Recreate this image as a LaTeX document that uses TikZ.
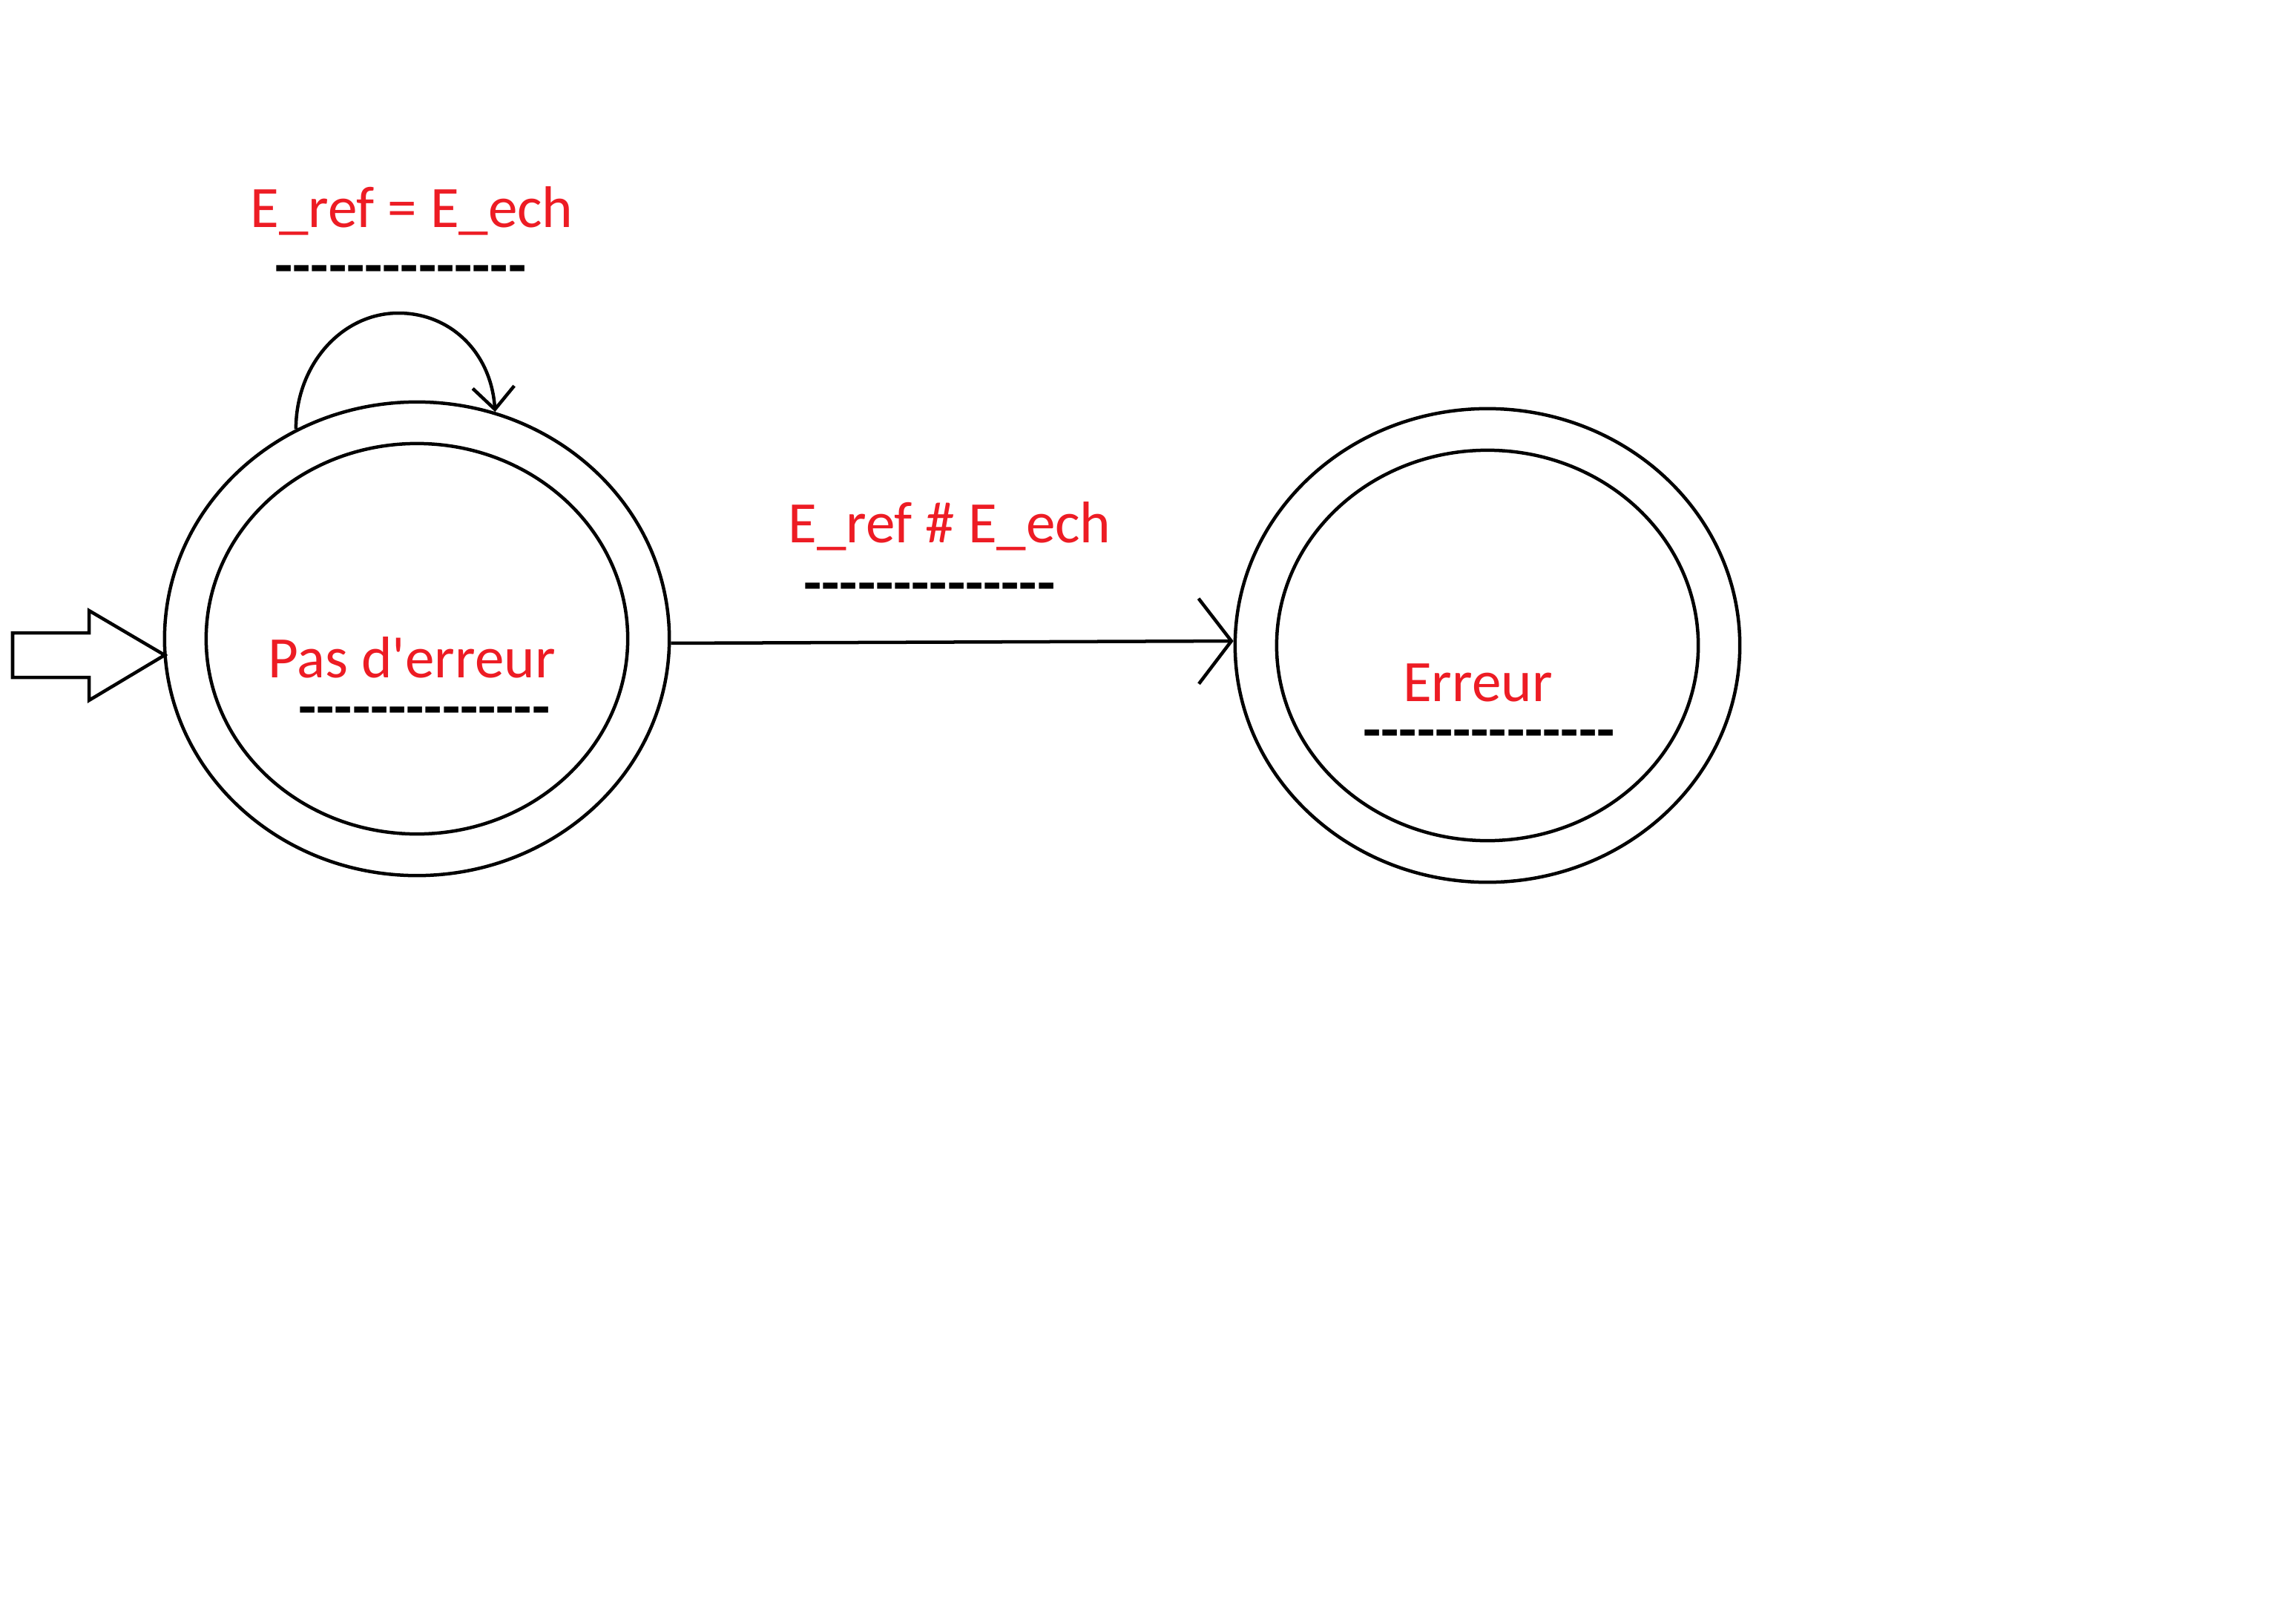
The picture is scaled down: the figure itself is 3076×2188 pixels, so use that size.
\documentclass[tikz,border=0pt]{standalone}
\usepackage{fontspec}
\newfontfamily\cfont{Carlito}
\usetikzlibrary{arrows.meta,shapes.geometric}
\definecolor{pred}{RGB}{237,28,36}
\begin{document}
\begin{tikzpicture}[x=0.01cm,y=-0.01cm,
  line width=0.045cm,
  stateout/.style={draw,ellipse,minimum width=6.8cm,minimum height=6.38cm,inner sep=0pt},
  statein/.style={draw,ellipse,minimum width=5.68cm,minimum height=5.26cm,inner sep=0pt},
  lbl/.style={text=pred,font=\cfont\fontsize{22.5pt}{27pt}\selectfont,inner sep=0pt,anchor=base},
  dashes/.style={text=black,font=\cfont\bfseries\fontsize{22.5pt}{27pt}\selectfont,inner sep=0pt,anchor=base},
  tr/.style={-{Straight Barb[length=0.44cm,width=1.15cm]}},
  loopar/.style={-{Straight Barb[length=0.30cm,width=0.56cm]}}]
\fill[white] (0,0) rectangle (3076,2188);
\useasboundingbox (0,0) rectangle (3076,2188);
% states
\node[stateout] (s0) at (562,861) {};
\node[statein] (s0i) at (s0.center) {};
\node[stateout] (s1) at (2005,870) {};
\node[statein] (s1i) at (s1.center) {};
% state labels
\node[lbl] (l0) at (555,913) {Pas d'erreur};
\node[dashes] (d0) at (572,979) {--------------};
\node[lbl] (l1) at (1992,945) {Erreur};
\node[dashes] (d1) at (2007,1010) {--------------};
% transition labels
\node[lbl] (tloop) at (555,307) {E\_ref = E\_ech};
\node[dashes] (dloop) at (540,384) {--------------};
\node[lbl] (ttr) at (1280,731) {E\_ref \# E\_ech};
\node[dashes] (dtr) at (1253,812) {--------------};
% initial arrow
\coordinate (init) at (222,883);
\draw (init) -- ++(-102,-60) -- ++(0,30) -- ++(-103,0) -- ++(0,60) -- ++(103,0) -- ++(0,31) -- cycle;
% transitions
\draw[tr] (s0.-1) -- (s1.179);
\coordinate (looptop) at (537,422);
\draw[loopar] (s0.120) .. controls +(0,-87) and +(-76,0) .. (looptop)
  .. controls +(72,0) and +(-5,-78) .. (s0.71);
\end{tikzpicture}
\end{document}
